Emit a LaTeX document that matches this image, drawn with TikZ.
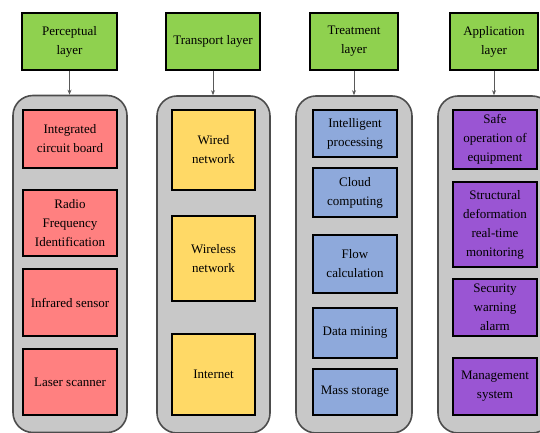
\documentclass[tikz,border=0pt]{standalone}
\usepackage{fontspec}
\setmainfont{Liberation Serif}
\usetikzlibrary{arrows.meta}
\definecolor{layergreen}{HTML}{8FD14F}
\definecolor{panelgray}{HTML}{C8C8C8}
\definecolor{sensred}{HTML}{FF8080}
\definecolor{netyellow}{HTML}{FFD966}
\definecolor{procblue}{HTML}{8EA9DB}
\definecolor{apppurple}{HTML}{9A55D3}

\begin{document}
\begin{tikzpicture}[x=1pt,y=1pt,
    every node/.style={font=\fontsize{13}{19}\selectfont,align=center,inner sep=0pt},
    layer/.style={draw=black,line width=1.4pt,fill=layergreen,minimum height=57pt},
    panel/.style={draw=black!70,line width=1.6pt,fill=panelgray,rounded corners=20pt,minimum height=337pt},
    item/.style={draw=black,line width=1.3pt},
    feed/.style={draw=black!65,line width=0.8pt,-{Stealth[length=5pt,width=4pt]}}]
    \useasboundingbox (0,0) rectangle (540,432);
    % layer heads
    \node[layer,minimum width=95pt] (h1) at (69.5,390.5) {Perceptual\\layer};
    \node[layer,minimum width=94pt] (h2) at (213,390.5) {Transport layer};
    \node[layer,minimum width=88pt] (h3) at (354,390.5) {Treatment\\layer};
    \node[layer,minimum width=88pt] (h4) at (494,390.5) {Application\\layer};
    % grey panels
    \node[panel,minimum width=114pt] (c1) at (70,168) {};
    \node[panel,minimum width=113pt] (c2) at (213.5,167.5) {};
    \node[panel,minimum width=116pt] (c3) at (354,167.5) {};
    \node[panel,minimum width=114pt] (c4) at (495,167.5) {};
    \foreach\i in {1,...,4}{
        \draw[feed] (h\i.south) -- (h\i.south |- c\i.north);
    }
    % perceptual
    \def\W{94pt}
    \node[item,fill=sensred,minimum width=\W,minimum height=58pt] (r1) at (70,293) {Integrated\\circuit board};
    \node[item,fill=sensred,minimum width=\W,minimum height=66pt] (r2) at (70,209) {Radio\\Frequency\\Identification};
    \node[item,fill=sensred,minimum width=\W,minimum height=67pt] (r3) at (70,129.5) {Infrared sensor};
    \node[item,fill=sensred,minimum width=\W,minimum height=66pt] (r4) at (70,50) {Laser scanner};
    % transport
    \def\W{83pt}
    \node[item,fill=netyellow,minimum width=\W,minimum height=80pt] (y1) at (213.5,282) {Wired\\network};
    \node[item,fill=netyellow,minimum width=\W,minimum height=85pt] (y2) at (213.5,173.5) {Wireless\\network};
    \node[item,fill=netyellow,minimum width=\W,minimum height=81pt] (y3) at (213.5,57.5) {Internet};
    % treatment
    \def\W{84pt}
    \node[item,fill=procblue,minimum width=\W,minimum height=47pt] (b1) at (355,298.5) {Intelligent\\processing};
    \node[item,fill=procblue,minimum width=\W,minimum height=49pt] (b2) at (355,239.5) {Cloud\\computing};
    \node[item,fill=procblue,minimum width=\W,minimum height=58pt] (b3) at (355,168) {Flow\\calculation};
    \node[item,fill=procblue,minimum width=\W,minimum height=50pt] (b4) at (355,99) {Data mining};
    \node[item,fill=procblue,minimum width=\W,minimum height=46pt] (b5) at (355,40) {Mass storage};
    % application
    \def\W{84pt}
    \node[item,fill=apppurple,minimum width=\W,minimum height=59pt] (p1) at (495,292.5) {Safe\\operation of\\equipment};
    \node[item,fill=apppurple,minimum width=\W,minimum height=85pt] (p2) at (495,207.5) {Structural\\deformation\\real-time\\monitoring};
    \node[item,fill=apppurple,minimum width=\W,minimum height=57pt] (p3) at (495,124.5) {Security\\warning\\alarm};
    \node[item,fill=apppurple,minimum width=\W,minimum height=57pt] (p4) at (495,45.5) {Management\\system};
\end{tikzpicture}
\end{document}
